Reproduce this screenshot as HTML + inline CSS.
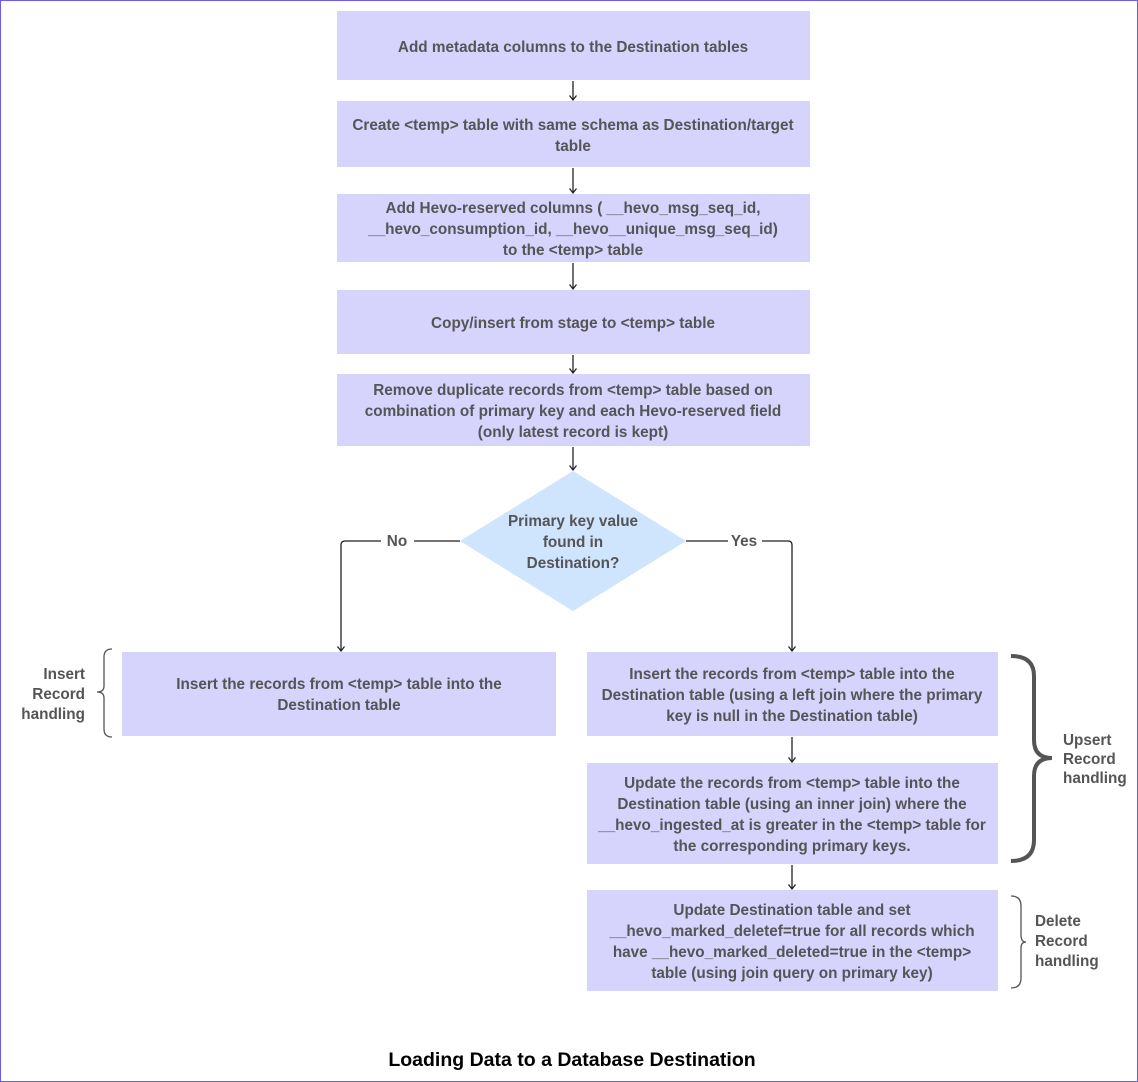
<!DOCTYPE html>
<html><head><meta charset="utf-8"><style>
html,body{margin:0;padding:0;background:#fff}
svg{display:block}
text{font-family:"Liberation Sans",sans-serif;font-weight:bold;fill:#555;font-size:15.3px}
</style></head><body>
<svg width="1138" height="1082" viewBox="0 0 1138 1082" xmlns="http://www.w3.org/2000/svg">
<defs><marker id="a" markerWidth="8" markerHeight="8" refX="6.5" refY="4" orient="auto" markerUnits="userSpaceOnUse"><path d="M2,0.5 L6.5,4 L2,7.5" fill="none" stroke="#222" stroke-width="1.3"/></marker></defs>
<rect x="0.5" y="0.5" width="1137" height="1081" fill="#fff" stroke="#6a5cf0" stroke-width="1"/>
<g fill="#d6d3fd">
<rect x="337" y="11" width="473" height="69"/>
<rect x="337" y="101" width="473" height="66"/>
<rect x="337" y="194" width="473" height="68"/>
<rect x="337" y="290" width="473" height="64"/>
<rect x="337" y="374" width="473" height="72"/>
<rect x="122" y="652" width="434" height="84"/>
<rect x="587" y="652" width="411" height="84"/>
<rect x="587" y="763" width="411" height="101"/>
<rect x="587" y="890" width="411" height="101"/>
</g>
<polygon points="573,471 686,541 573,611 460,541" fill="#cfe4fd"/>
<g stroke="#222" stroke-width="1.3" fill="none">
<line x1="573" y1="81" x2="573" y2="100" marker-end="url(#a)"/>
<line x1="573" y1="168" x2="573" y2="193" marker-end="url(#a)"/>
<line x1="573" y1="263" x2="573" y2="289" marker-end="url(#a)"/>
<line x1="573" y1="355" x2="573" y2="373" marker-end="url(#a)"/>
<line x1="573" y1="447" x2="573" y2="470" marker-end="url(#a)"/>
<path d="M460,541 H414 M381,541 H345 Q341,541 341,545 V651" marker-end="url(#a)"/>
<path d="M686,541 H728 M762,541 H788 Q792,541 792,545 V651" marker-end="url(#a)"/>
<line x1="792" y1="737" x2="792" y2="762" marker-end="url(#a)"/>
<line x1="792" y1="865" x2="792" y2="889" marker-end="url(#a)"/>
</g>
<g stroke="#555" fill="none">
<path d="M112,649 Q104,649 104,657 V686 Q104,692 97,692 Q104,692 104,698 V729 Q104,737 112,737" stroke-width="1.3"/>
<path d="M1011,656 Q1034,656 1034,676 V740 Q1034,758 1052,758 Q1034,758 1034,776 V840 Q1034,861 1011,861" stroke-width="4"/>
<path d="M1011,896 Q1021,896 1021,906 V935 Q1021,942 1026,942 Q1021,942 1021,948 V978 Q1021,988 1011,988" stroke-width="1.3"/>
</g>
<g text-anchor="middle">
<text x="573" y="52">Add metadata columns to the Destination tables</text>
<text x="573" y="130">Create &lt;temp&gt; table with same schema as Destination/target</text>
<text x="573" y="151">table</text>
<text x="573" y="213">Add Hevo-reserved columns ( __hevo_msg_seq_id,</text>
<text x="573" y="234">__hevo_consumption_id, __hevo__unique_msg_seq_id)</text>
<text x="573" y="255">to the &lt;temp&gt; table</text>
<text x="573" y="328">Copy/insert from stage to &lt;temp&gt; table</text>
<text x="573" y="395">Remove duplicate records from &lt;temp&gt; table based on</text>
<text x="573" y="416">combination of primary key and each Hevo-reserved field</text>
<text x="573" y="437">(only latest record is kept)</text>
<text x="573" y="526">Primary key value</text>
<text x="573" y="547">found in</text>
<text x="573" y="568">Destination?</text>
<text x="397" y="546">No</text>
<text x="744" y="546">Yes</text>
<text x="339" y="689">Insert the records from &lt;temp&gt; table into the</text>
<text x="339" y="710">Destination table</text>
<text x="792" y="679">Insert the records from &lt;temp&gt; table into the</text>
<text x="792" y="700">Destination table (using a left join where the primary</text>
<text x="792" y="721">key is null in the Destination table)</text>
<text x="792" y="788">Update the records from &lt;temp&gt; table into the</text>
<text x="792" y="809">Destination table (using an inner join) where the</text>
<text x="792" y="830">__hevo_ingested_at is greater in the &lt;temp&gt; table for</text>
<text x="792" y="851">the corresponding primary keys.</text>
<text x="792" y="915">Update Destination table and set</text>
<text x="792" y="936">__hevo_marked_deletef=true for all records which</text>
<text x="792" y="957">have __hevo_marked_deleted=true in the &lt;temp&gt;</text>
<text x="792" y="978">table (using join query on primary key)</text>
</g>
<g text-anchor="end">
<text x="85" y="679">Insert</text>
<text x="85" y="699">Record</text>
<text x="85" y="719">handling</text>
</g>
<text x="1063" y="745">Upsert</text>
<text x="1063" y="764">Record</text>
<text x="1063" y="783">handling</text>
<text x="1035" y="926">Delete</text>
<text x="1035" y="946">Record</text>
<text x="1035" y="966">handling</text>
<text x="572" y="1066" text-anchor="middle" style="fill:#000;font-size:19.5px">Loading Data to a Database Destination</text>
</svg>
</body></html>
